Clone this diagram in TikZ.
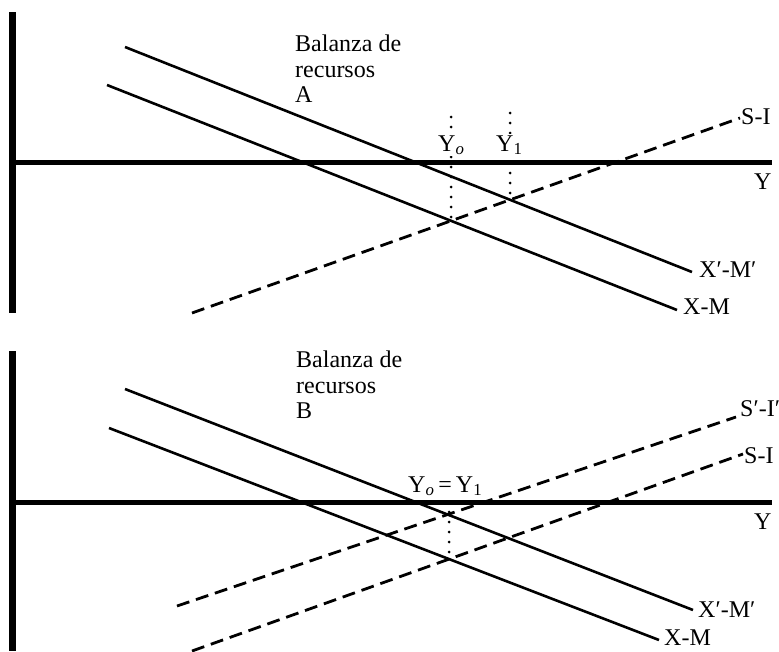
\documentclass[tikz,border=0pt]{standalone}
\usepackage{fontspec}
\setmainfont{Liberation Serif}
\begin{document}
\begin{tikzpicture}[x=1pt,y=-1pt,
  axisH/.style={line width=5pt},
  axisV/.style={line width=7pt},
  curve/.style={line width=2.6pt},
  dcurve/.style={line width=2.8pt, dash pattern=on 13pt off 7pt},
  guide/.style={line width=3pt, line cap=round, dash pattern=on 0pt off 10pt},
  lbl/.style={font=\fontsize{24}{25.5}\selectfont, inner sep=0pt}]
\useasboundingbox (0,0) rectangle (779,651);
% ---------------- Panel A ----------------
\coordinate (aV1) at (12,12);
\coordinate (aV2) at (12,313);
\coordinate (aH1) at (9,162);
\coordinate (aH2) at (772,162);
\draw[axisV] (aV1) -- (aV2);
\draw[axisH] (aH1) -- (aH2);
\coordinate (pA1) at (125,47);
\coordinate (pA2) at (692,272);
\coordinate (qA1) at (107,85);
\coordinate (qA2) at (677,310);
\coordinate (sA1) at (192,313);
\coordinate (sA2) at (740,118);
\draw[curve] (pA1) -- (pA2);
\draw[curve] (qA1) -- (qA2);
\draw[dcurve] (sA1) -- (sA2);
\coordinate (y0A) at (intersection of qA1--qA2 and sA1--sA2);
\coordinate (y1A) at (intersection of pA1--pA2 and sA1--sA2);
\coordinate (topA0) at (0,117);
\coordinate (topA1) at (0,113);
\draw[guide] (y0A |- topA0) -- (y0A);
\draw[guide] (y1A |- topA1) -- (y1A);
\node[lbl, anchor=north west, align=left] (titA) at (295,35) {Balanza de\\recursos\\A};
\node[lbl, anchor=base west, fill=white, inner sep=1pt] (Y0A) at (437,151) {Y\textsubscript{\textit{o}}};
\node[lbl, anchor=base west, fill=white, inner sep=1pt] (Y1A) at (495,151) {Y\textsubscript{1}};
\node[lbl, anchor=base west] (SIA) at (741,124) {S-I};
\node[lbl, anchor=base west] (YA) at (754,189) {Y};
\node[lbl, anchor=base west] (XpA) at (699,277) {X′-M′};
\node[lbl, anchor=base west] (XA) at (683,314) {X-M};
% ---------------- Panel B ----------------
\coordinate (bV1) at (12,351);
\coordinate (bV2) at (12,651);
\coordinate (bH1) at (9,502);
\coordinate (bH2) at (772,502);
\draw[axisV] (bV1) -- (bV2);
\draw[axisH] (bH1) -- (bH2);
\coordinate (pB1) at (125,389);
\coordinate (pB2) at (693,610);
\coordinate (qB1) at (109,428);
\coordinate (qB2) at (659,640);
\coordinate (rB1) at (177,606);
\coordinate (rB2) at (736,417);
\coordinate (sB1) at (192,651);
\coordinate (sB2) at (743,454);
\draw[curve] (pB1) -- (pB2);
\draw[curve] (qB1) -- (qB2);
\draw[dcurve] (rB1) -- (rB2);
\draw[dcurve] (sB1) -- (sB2);
\coordinate (y0B) at (intersection of qB1--qB2 and sB1--sB2);
\draw[guide] (y0B |- bH1) -- (y0B);
\node[lbl, anchor=north west, align=left] (titB) at (296,351) {Balanza de\\recursos\\B};
\node[lbl, anchor=base west] (Y01B) at (408,492) {Y\textsubscript{\textit{o}}\,=\,Y\textsubscript{1}};
\node[lbl, anchor=base west] (SpIB) at (740,416) {S′-I′};
\node[lbl, anchor=base west] (SIB) at (744,463) {S-I};
\node[lbl, anchor=base west] (YB) at (754,529) {Y};
\node[lbl, anchor=base west] (XpB) at (698,617) {X′-M′};
\node[lbl, anchor=base west] (XB) at (664,645) {X-M};
\end{tikzpicture}
\end{document}
